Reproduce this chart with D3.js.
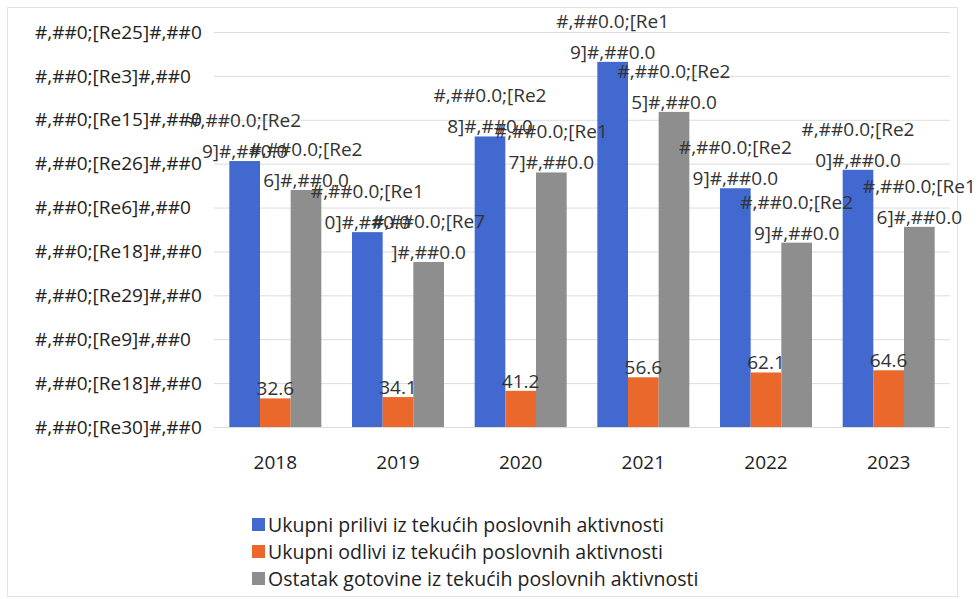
<!DOCTYPE html>
<html>
  <head>
    <meta charset="utf-8" />
    <script src="https://d3js.org/d3.v7.min.js"></script>
    <style>
      body { margin: 0; background: #fff; }
      text { font-family: "Open Sans", sans-serif; }
    </style>
  </head>
  <body>
    <svg id="viz"></svg>
    <script>
      var years = ["2018", "2019", "2020", "2021", "2022", "2023"];
      var inflows = [303, 222, 331, 416, 272, 293];
      var outflows = [32.6, 34.1, 41.2, 56.6, 62.1, 64.6];
      var remainder = [270, 188, 290, 359, 210, 228];

      var seriesNames = [
        "Ukupni prilivi iz tekućih poslovnih aktivnosti",
        "Ukupni odlivi iz tekućih poslovnih aktivnosti",
        "Ostatak gotovine iz tekućih poslovnih aktivnosti"
      ];

      var tickValues = [0, 50, 100, 150, 200, 250, 300, 350, 400, 450];
      var tickLabels = [
        "#,##0;[Re30]#,##0", "#,##0;[Re18]#,##0", "#,##0;[Re9]#,##0",
        "#,##0;[Re29]#,##0", "#,##0;[Re18]#,##0", "#,##0;[Re6]#,##0",
        "#,##0;[Re26]#,##0", "#,##0;[Re15]#,##0", "#,##0;[Re3]#,##0",
        "#,##0;[Re25]#,##0"
      ];

      // broken number-format labels, two lines each
      var inflowLabels = [
        ["#,##0.0;[Re2", "9]#,##0.0"], ["#,##0.0;[Re1", "0]#,##0.0"],
        ["#,##0.0;[Re2", "8]#,##0.0"], ["#,##0.0;[Re1", "9]#,##0.0"],
        ["#,##0.0;[Re2", "9]#,##0.0"], ["#,##0.0;[Re2", "0]#,##0.0"]
      ];
      var remainderLabels = [
        ["#,##0.0;[Re2", "6]#,##0.0"], ["#,##0.0;[Re7", "]#,##0.0"],
        ["#,##0.0;[Re1", "7]#,##0.0"], ["#,##0.0;[Re2", "5]#,##0.0"],
        ["#,##0.0;[Re2", "9]#,##0.0"], ["#,##0.0;[Re1", "6]#,##0.0"]
      ];

      var colors = ["#4169cf", "#ea682b", "#8e8e8e"];

      var width = 978, height = 599;
      var plotLeft = 214, plotRight = 950, plotTop = 32, plotBottom = 427;
      var fs = 19;

      var svg = d3.select("#viz")
          .attr("width", width)
          .attr("height", height);

      svg.append("rect")
          .attr("x", 7.5).attr("y", 7.5)
          .attr("width", 950).attr("height", 589)
          .attr("fill", "#fff")
          .attr("stroke", "#e2e2e2");

      var y = d3.scaleLinear().domain([0, 450]).range([plotBottom, plotTop]);
      var x0 = d3.scaleBand().domain(years).range([plotLeft, plotRight]);
      var groupW = x0.bandwidth() * 0.75;
      var x1 = d3.scaleBand().domain([0, 1, 2]).range([0, groupW]);

      // gridlines
      svg.append("g").selectAll("line")
          .data(tickValues)
          .enter().append("line")
          .attr("x1", plotLeft).attr("x2", plotRight)
          .attr("y1", function(d) { return y(d) + 0.5; })
          .attr("y2", function(d) { return y(d) + 0.5; })
          .attr("stroke", "#dcdcdc");

      // y tick labels
      svg.append("g").selectAll("text")
          .data(tickValues)
          .enter().append("text")
          .attr("x", 35)
          .attr("y", function(d) { return y(d); })
          .attr("dy", "0.35em")
          .attr("font-size", fs)
          .attr("fill", "#222")
          .text(function(d, i) { return tickLabels[i]; });

      var series = [inflows, outflows, remainder];
      var bars = svg.append("g");
      series.forEach(function(vals, s) {
        bars.selectAll("rect.s" + s)
            .data(vals)
            .enter().append("rect")
            .attr("class", "s" + s)
            .attr("x", function(d, i) {
              return x0(years[i]) + (x0.bandwidth() - groupW) / 2 + x1(s);
            })
            .attr("width", x1.bandwidth())
            .attr("y", function(d) { return y(d); })
            .attr("height", function(d) { return y(0) - y(d); })
            .attr("fill", colors[s]);
      });

      function barCenter(i, s) {
        return x0(years[i]) + (x0.bandwidth() - groupW) / 2 + x1(s) + x1.bandwidth() / 2;
      }

      var labels = svg.append("g")
          .attr("font-size", fs)
          .attr("fill", "#333")
          .attr("text-anchor", "middle");

      [[inflows, inflowLabels, 0], [remainder, remainderLabels, 2]].forEach(function(p) {
        p[0].forEach(function(v, i) {
          var cx = barCenter(i, p[2]);
          var t = labels.append("text")
              .attr("x", cx)
              .attr("y", y(v) - 34);
          t.append("tspan").attr("x", cx).text(p[1][i][0]);
          t.append("tspan").attr("x", cx).attr("dy", 31).text(p[1][i][1]);
        });
      });

      outflows.forEach(function(v, i) {
        labels.append("text")
            .attr("x", barCenter(i, 1))
            .attr("y", y(v) - 3)
            .text(d3.format(".1f")(v));
      });

      // x axis labels
      svg.append("g").selectAll("text")
          .data(years)
          .enter().append("text")
          .attr("x", function(d) { return x0(d) + x0.bandwidth() / 2; })
          .attr("y", 469)
          .attr("text-anchor", "middle")
          .attr("font-size", fs)
          .attr("fill", "#222")
          .text(function(d) { return d; });

      // legend
      var legend = svg.append("g");
      seriesNames.forEach(function(name, i) {
        var ly = 525 + i * 27;
        legend.append("rect")
            .attr("x", 252).attr("y", ly - 7)
            .attr("width", 13).attr("height", 13)
            .attr("fill", colors[i]);
        legend.append("text")
            .attr("x", 268).attr("y", ly)
            .attr("dy", "0.35em")
            .attr("font-size", 19.5)
            .attr("fill", "#222")
            .text(name);
      });
    </script>
  </body>
</html>
